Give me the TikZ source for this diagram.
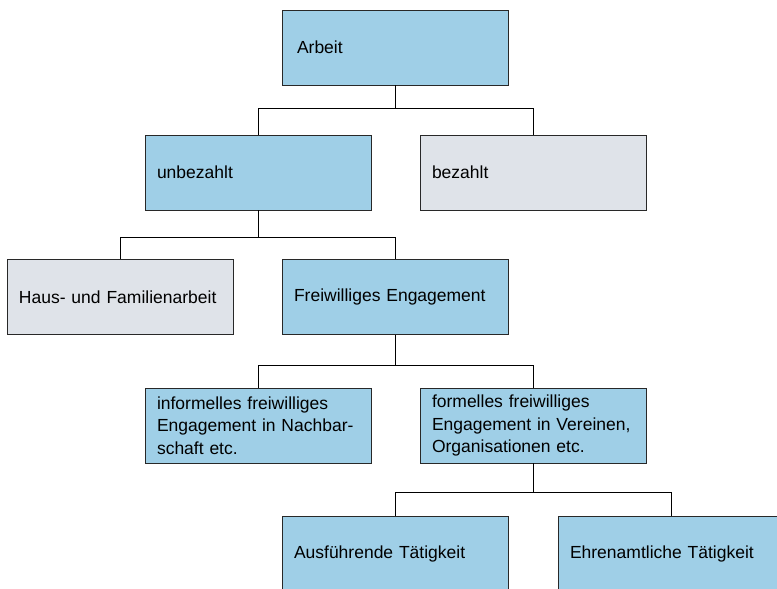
\documentclass[tikz,border=0pt]{standalone}
\usepackage{fontspec}
\setmainfont{Liberation Sans}
\definecolor{boxblue}{RGB}{159,207,231}
\definecolor{boxgrey}{RGB}{223,227,233}
\definecolor{edge}{RGB}{40,40,40}
\tikzset{
    box/.style = {draw=edge, line width=0.9pt, minimum width=226pt, minimum height=75pt,
        text width=202pt, inner xsep=12pt, align=left, anchor=center,
        font=\fontsize{17.5}{22.5}\selectfont},
    blue/.style = {box, fill=boxblue},
    grey/.style = {box, fill=boxgrey},
    link/.style = {line width=1pt, draw=black}
}
\begin{document}
\begin{tikzpicture}[x=1pt, y=-1pt]
    \useasboundingbox (0,0) rectangle (777,589);
    \clip (0,0) rectangle (777,589);
    \node[blue] (arbeit) at (395,47.5) {\hspace*{3pt}Arbeit};
    \node[blue] (unbezahlt) at (258,172.5) {unbezahlt};
    \node[grey] (bezahlt) at (533,172.5) {bezahlt};
    \node[grey] (haus) at (120,297) {Haus- und Familienarbeit};
    \node[blue] (freiw) at (395,297) {Freiwilliges Engagement};
    \node[blue] (informell) at (258,425.5) {informelles freiwilliges\\Engagement in Nachbar-\\schaft etc.};
    \node[blue] (formell) at (533,425.5) {formelles freiwilliges\\Engagement in Vereinen,\\Organisationen etc.};
    \node[blue] (ausf) at (395,553.5) {Ausführende Tätigkeit};
    \node[blue] (ehren) at (671,553.5) {Ehrenamtliche Tätigkeit};
    \draw[link] (arbeit.south) -- ++(0,23) -| (unbezahlt.north);
    \draw[link] (arbeit.south) -- ++(0,23) -| (bezahlt.north);
    \draw[link] (unbezahlt.south) -- ++(0,27) -| (haus.north);
    \draw[link] (unbezahlt.south) -- ++(0,27) -| (freiw.north);
    \draw[link] (freiw.south) -- ++(0,31) -| (informell.north);
    \draw[link] (freiw.south) -- ++(0,31) -| (formell.north);
    \draw[link] (formell.south) -- ++(0,29) -| (ausf.north);
    \draw[link] (formell.south) -- ++(0,29) -| (ehren.north);
\end{tikzpicture}
\end{document}
